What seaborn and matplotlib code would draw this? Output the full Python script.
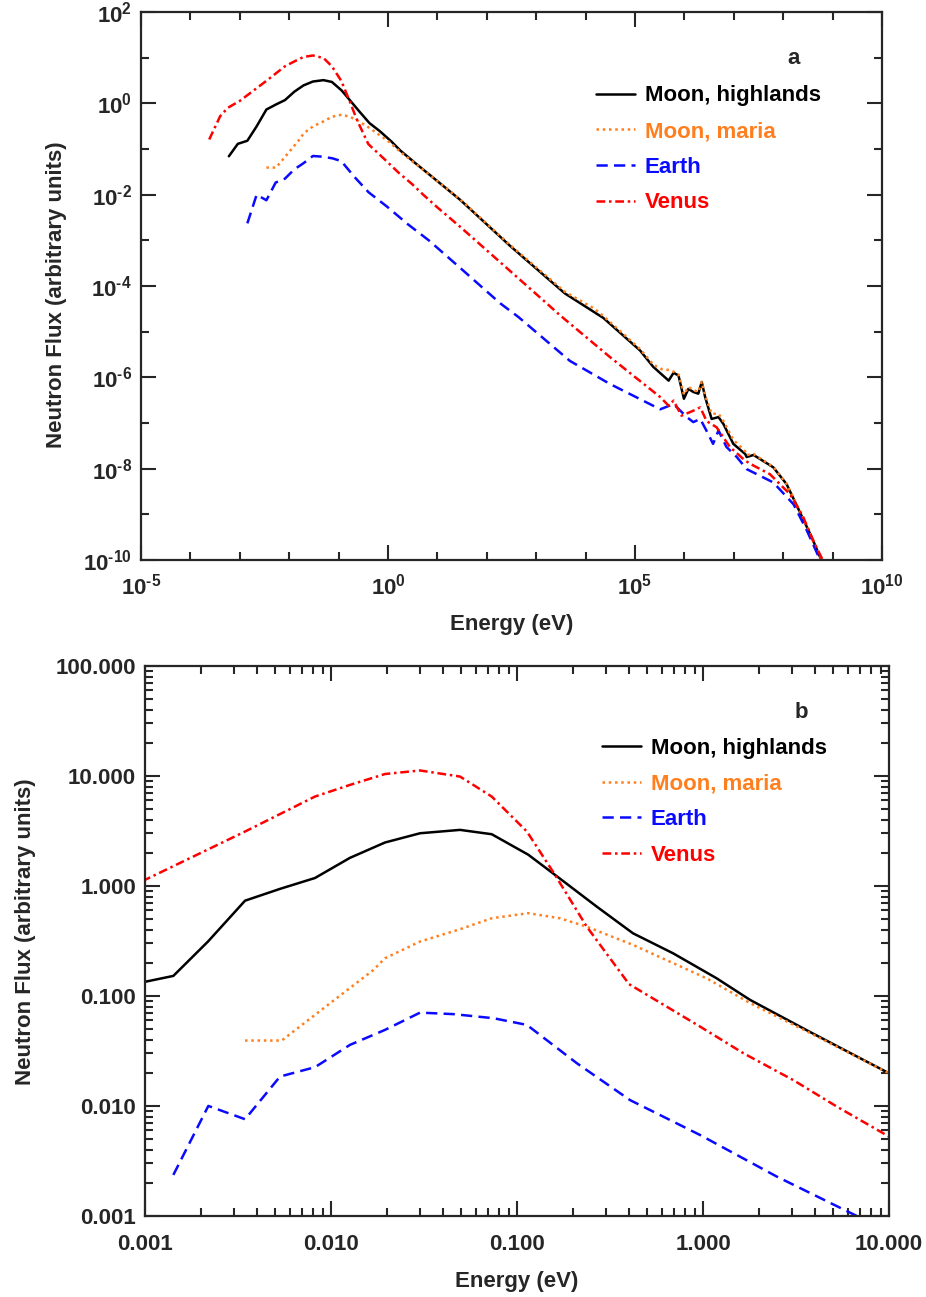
#%% Preparations
import numpy as np
import pandas as pd
import matplotlib
matplotlib.use("Agg")
import matplotlib.pyplot as plt
import matplotlib.ticker as mticker
import seaborn as sns

sns.set_style("ticks")
plt.rcParams['font.family'] = ['Liberation Sans', 'DejaVu Sans']
plt.rcParams['font.weight'] = 'bold'
plt.rcParams['axes.labelweight'] = 'bold'
plt.rcParams['mathtext.fontset'] = 'custom'
plt.rcParams['mathtext.rm'] = 'Liberation Sans:bold'
plt.rcParams['mathtext.it'] = 'Liberation Sans:bold'
plt.rcParams['mathtext.bf'] = 'Liberation Sans:bold'
plt.rcParams['mathtext.sf'] = 'Liberation Sans:bold'

#%% data
labels = ["Moon, highlands", "Moon, maria", "Earth", "Venus"]
colors = ["black", "#FF7F1F", "#0A0AFF", "#FF0000"]
styles = ["-", (0, (1, 1.5)), (0, (4.5, 2.5)), (0, (3.5, 1.5, 1, 1.5))]

highlands_E = [0.0006, 0.00091, 0.00142, 0.00218, 0.00345, 0.00532, 0.0082, 0.01265,
               0.0195, 0.0301, 0.0494, 0.0731, 0.115, 0.16, 0.268, 0.42, 0.69, 1.18,
               1.79, 3.76, 10, 28.6, 295, 3800, 2.29e4, 1.26e5, 2.34e5, 4.79e5, 6.03e5,
               7.59e5, 9.77e5, 1.2e6, 1.51e6, 1.91e6, 2.24e6, 2.63e6, 3.55e6, 4.9e6,
               6.17e6, 9.77e6, 1.7e7, 1.82e7, 2.51e7, 6.31e7, 1.17e8, 2.19e8, 3.8e8, 6.03e8]
highlands_F = [0.0695, 0.13, 0.152, 0.312, 0.734, 0.94, 1.18, 1.80,
               2.48, 3.01, 3.23, 2.95, 1.92, 1.26, 0.649, 0.371, 0.244, 0.145,
               0.092, 0.047, 0.0198, 7.8e-3, 7.6e-4, 6.9e-5, 2.0e-5, 3.9e-6, 1.7e-6, 8.5e-7, 1.26e-6,
               1.1e-6, 3.4e-7, 5.6e-7, 4.8e-7, 4.4e-7, 7.9e-7, 3.7e-7, 1.23e-7, 1.35e-7,
               9.5e-8, 3.5e-8, 2.1e-8, 1.8e-8, 2.0e-8, 1.07e-8, 4.6e-9, 1.1e-9, 3.1e-10, 9.5e-11]

maria_E = [0.00345, 0.00543, 0.00989, 0.0169, 0.0195, 0.0301, 0.0494, 0.0731, 0.115,
           0.170, 0.237, 0.42, 1.05, 1.79, 3.76, 10, 28.6, 295, 3800, 1.5e4, 2.29e4,
           1.26e5, 2.34e5, 3.55e5, 5.1e5, 6.3e5, 7.59e5, 9.77e5, 1.2e6, 1.51e6, 1.91e6,
           2.24e6, 2.63e6, 3.55e6, 4.9e6, 6.17e6, 9.77e6, 1.7e7, 1.82e7, 2.51e7, 6.31e7,
           1.17e8, 2.19e8, 3.8e8, 6.31e8]
maria_F = [0.0393, 0.0393, 0.0859, 0.172, 0.22, 0.312, 0.404, 0.508, 0.565,
           0.508, 0.426, 0.291, 0.144, 0.086, 0.046, 0.0198, 8.0e-3, 7.9e-4, 7.5e-5, 3.2e-5, 2.2e-5,
           4.2e-6, 1.9e-6, 1.5e-6, 1.45e-6, 1.3e-6, 1.15e-6, 4.2e-7, 6.2e-7, 5.3e-7, 4.8e-7,
           8.0e-7, 4.0e-7, 1.6e-7, 1.6e-7, 1.1e-7, 4.3e-8, 2.4e-8, 2.0e-8, 2.1e-8, 1.1e-8,
           4.7e-9, 1.15e-9, 3.2e-10, 9.0e-11]

earth_E = [0.00142, 0.00219, 0.00345, 0.00532, 0.0082, 0.01265, 0.0195, 0.0301, 0.0455,
           0.0747, 0.113, 0.21, 0.405, 0.964, 2.49, 6.7, 33, 186, 436, 4790, 3.09e4,
           3.24e5, 6.03e5, 1.12e6, 1.51e6, 2.09e6, 3.02e6, 3.8e6, 4.9e6, 7.08e6, 1.15e7,
           1.82e7, 6.31e7, 1.62e8, 3.02e8, 5.13e8]
earth_F = [0.00236, 0.0100, 0.00757, 0.0185, 0.0225, 0.0359, 0.0491, 0.0705, 0.0683,
           0.0627, 0.0545, 0.0244, 0.0113, 0.00544, 0.00228, 0.001, 2.2e-4, 4.2e-5, 2.1e-5, 2.3e-6, 7.2e-7,
           2.0e-7, 2.6e-7, 1.35e-7, 1.05e-7, 1.23e-7, 5.8e-8, 3.5e-8, 6.9e-8, 3.0e-8, 1.8e-8,
           9.8e-9, 5.0e-9, 1.66e-9, 4.4e-10, 1.23e-10]

venus_E = [0.00024, 0.0004, 0.00057, 0.001, 0.00345, 0.0082, 0.01265, 0.0195, 0.0301,
           0.0494, 0.0731, 0.113, 0.16, 0.237, 0.40, 0.964, 1.65, 3.05, 5.24, 10, 28.6,
           1380, 3020, 3.09e4, 3.24e5, 4.79e5, 6.03e5, 8.7e5, 1.51e6, 2.09e6, 2.82e6,
           4.47e6, 8.3e6, 1.7e7, 2.51e7, 5.37e7, 1.38e8, 2.57e8, 4.07e8, 6.46e8]
venus_F = [0.162, 0.525, 0.80, 1.135, 3.12, 6.49, 8.28, 10.4, 11.2,
           9.86, 6.49, 3.12, 1.26, 0.426, 0.128, 0.0526, 0.0301, 0.0172, 0.00986, 0.00526, 2.0e-3,
           4.9e-5, 2.3e-5, 2.8e-6, 3.7e-7, 2.4e-7, 3.1e-7, 1.45e-7, 1.86e-7, 2.2e-7, 1.1e-7,
           8.1e-8, 3.0e-8, 1.5e-8, 1.17e-8, 7.6e-9, 2.75e-9, 8.5e-10, 2.6e-10, 9.5e-11]

series = [(highlands_E, highlands_F), (maria_E, maria_F), (earth_E, earth_F), (venus_E, venus_F)]

#%% plot helpers
def draw_lines(ax):
    handles = []
    for (E, F), lab, col, ls in zip(series, labels, colors, styles):
        df = pd.DataFrame({"E": E, "F": F})
        sns.lineplot(data=df, x="E", y="F", ax=ax, color=col, linestyle=ls,
                     linewidth=1.8, estimator=None, sort=False)
        handles.append(ax.get_lines()[-1])
    return handles


def style_axes(ax):
    for sp in ax.spines.values():
        sp.set_linewidth(1.6)
        sp.set_visible(True)
    ax.tick_params(which='both', direction='in', top=True, right=True,
                   width=1.5, labelsize=16)
    ax.tick_params(which='major', length=11)
    ax.tick_params(which='minor', length=5.5)


def add_legend(ax, handles, anchor, tag):
    leg = ax.legend(handles, labels, loc='upper left', bbox_to_anchor=anchor,
                    frameon=False, fontsize=16, handlelength=1.75,
                    handletextpad=0.45, labelspacing=0.66, borderpad=0,
                    borderaxespad=0)
    for txt, col in zip(leg.get_texts(), colors):
        txt.set_color(col)
    ax.text(tag[0], tag[1], tag[2], transform=ax.transAxes, fontsize=16,
            fontweight='bold', ha='center', va='center')


#%% figure
fig = plt.figure(figsize=(9.26, 12.97), dpi=100)

# panel a
ax1 = fig.add_axes([0.1523, 0.5682, 0.8002, 0.4225])
h1 = draw_lines(ax1)
ax1.set_xscale('log')
ax1.set_yscale('log')
ax1.set_xlim(1e-5, 1e10)
ax1.set_ylim(1e-10, 1e2)
ax1.xaxis.set_major_locator(mticker.FixedLocator([10.0 ** k for k in range(-5, 11, 5)]))
ax1.xaxis.set_minor_locator(mticker.FixedLocator([10.0 ** k for k in range(-5, 11) if k % 5]))
ax1.yaxis.set_major_locator(mticker.FixedLocator([10.0 ** k for k in range(-10, 3, 2)]))
ax1.yaxis.set_minor_locator(mticker.FixedLocator([10.0 ** k for k in range(-9, 2, 2)]))


def pow_label(v, p):
    k = int(round(np.log10(v)))
    if k < 0:
        return r'$10^{\text{-}%d}$' % (-k)
    return r'$10^{%d}$' % k


ax1.xaxis.set_major_formatter(mticker.FuncFormatter(pow_label))
ax1.yaxis.set_major_formatter(mticker.FuncFormatter(pow_label))
ax1.xaxis.set_minor_formatter(mticker.NullFormatter())
ax1.yaxis.set_minor_formatter(mticker.NullFormatter())
style_axes(ax1)
ax1.tick_params(axis='x', which='major', pad=10)
ax1.tick_params(axis='y', which='major', pad=6.5)
ax1.set_xlabel("Energy (eV)", fontsize=16, fontweight='bold')
ax1.set_ylabel("Neutron Flux (arbitrary units)", fontsize=16, fontweight='bold')
ax1.xaxis.set_label_coords(0.5, -0.0985)
ax1.yaxis.set_label_coords(-0.1, 0.4836)
add_legend(ax1, h1, (0.614, 0.866), (0.881, 0.916, "a"))

# panel b
ax2 = fig.add_axes([0.1566, 0.0625, 0.8035, 0.4241])
h2 = draw_lines(ax2)
ax2.set_xscale('log')
ax2.set_yscale('log')
ax2.set_xlim(1e-3, 10)
ax2.set_ylim(1e-3, 100)
ax2.xaxis.set_major_locator(mticker.LogLocator(base=10))
ax2.yaxis.set_major_locator(mticker.LogLocator(base=10))
ax2.xaxis.set_minor_locator(mticker.LogLocator(base=10, subs=np.arange(2, 10)))
ax2.yaxis.set_minor_locator(mticker.LogLocator(base=10, subs=np.arange(2, 10)))
ax2.xaxis.set_major_formatter(mticker.FormatStrFormatter('%.3f'))
ax2.yaxis.set_major_formatter(mticker.FormatStrFormatter('%.3f'))
ax2.xaxis.set_minor_formatter(mticker.NullFormatter())
ax2.yaxis.set_minor_formatter(mticker.NullFormatter())
style_axes(ax2)
ax2.tick_params(axis='x', which='major', pad=13)
ax2.tick_params(axis='y', which='major', pad=6.5)
ax2.set_xlabel("Energy (eV)", fontsize=16, fontweight='bold')
ax2.set_ylabel("Neutron Flux (arbitrary units)", fontsize=16, fontweight='bold')
ax2.xaxis.set_label_coords(0.5, -0.1)
ax2.yaxis.set_label_coords(-0.146, 0.516)
add_legend(ax2, h2, (0.614, 0.869), (0.882, 0.915, "b"))

fig.savefig("out.png", dpi=100)
